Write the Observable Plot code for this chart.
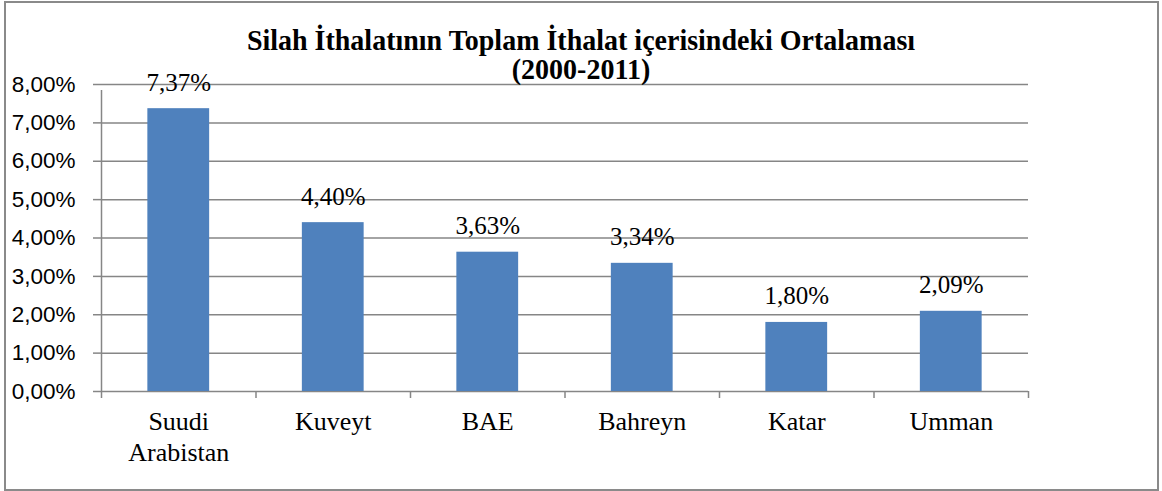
<!DOCTYPE html>
<html>
<head>
<meta charset="utf-8">
<script src="https://cdn.jsdelivr.net/npm/d3@7"></script>
<script src="https://cdn.jsdelivr.net/npm/@observablehq/plot@0.6"></script>
<style>
  html, body { margin: 0; padding: 0; background: #fff; }
  #wrap { position: relative; width: 1162px; height: 491px; overflow: hidden; }
  #border { position: absolute; left: 4px; top: 1px; width: 1151px; height: 486px; border: 2px solid #8a8a8a; box-sizing: content-box; }
  #title { position: absolute; left: 0; width: 1162px; top: 27px; text-align: center;
           font-family: "Liberation Serif", "Times New Roman", serif; font-weight: bold;
           font-size: 28px; line-height: 28px; color: #000; transform: scaleY(1.05); }
  #chart { position: absolute; left: 0; top: 0; }
  .serif text { font-family: "Liberation Serif", "Times New Roman", serif; }
</style>
</head>
<body>
<div id="wrap">
  <div id="chart"></div>
  <div id="border"></div>
  <div id="title">Silah İthalatının Toplam İthalat içerisindeki Ortalaması<br>(2000-2011)</div>
</div>
<script>
const categories = ["Suudi\nArabistan", "Kuveyt", "BAE", "Bahreyn", "Katar", "Umman"];
const values = [7.37, 4.40, 3.63, 3.34, 1.80, 2.09]; // percent
const yTicks = [0, 1, 2, 3, 4, 5, 6, 7, 8];

const trLocale = d3.formatLocale({decimal: ",", thousands: ".", grouping: [3], currency: ["", "₺"]});
const fmt2 = trLocale.format(".2f");
const pct = v => fmt2(v) + "%";

const data = categories.map((c, i) => ({i, cat: c, v: values[i]}));
const grid = "#868686";
const serif = "'Liberation Serif', 'Times New Roman', serif";

const chart = Plot.plot({
  width: 1162,
  height: 491,
  marginLeft: 101,
  marginRight: 134,
  marginTop: 84,
  marginBottom: 100,
  x: {type: "linear", domain: [0, categories.length], axis: null},
  y: {domain: [0, 8], axis: null},
  marks: [
    Plot.ruleY(yTicks, {stroke: grid, strokeWidth: 1.5, strokeOpacity: 1}),
    Plot.axisY({ticks: yTicks, anchor: "left", tickSize: 8, tickPadding: 18, stroke: grid, strokeWidth: 1.5, strokeOpacity: 1,
                tickFormat: pct, fontFamily: "'Liberation Sans', Arial, sans-serif", fontSize: 22.5, fill: "#000", label: null}),
    Plot.ruleX([0], {y1: 0, y2: 8, stroke: grid, strokeWidth: 1.5, insetBottom: -6}),
    Plot.axisX({ticks: d3.range(categories.length + 1), anchor: "bottom", tickSize: 7, stroke: grid, strokeWidth: 1.5, strokeOpacity: 1,
                tickFormat: () => "", label: null}),
    Plot.rectY(data, {x1: d => d.i + 0.3, x2: d => d.i + 0.7, y1: 0, y2: "v", fill: "#4F81BD"}),
    Plot.text(data, {x: d => d.i + 0.5, y: "v", text: d => pct(d.v), lineAnchor: "bottom", dy: -18,
                     fontFamily: serif, fontSize: 25, fill: "#000"}),
    Plot.text(data, {x: d => d.i + 0.5, y: 0, text: "cat", lineAnchor: "top", dy: 16, lineHeight: 1.2,
                     fontFamily: serif, fontSize: 26, fill: "#000"})
  ]
});
document.getElementById("chart").appendChild(chart);
</script>
</body>
</html>
